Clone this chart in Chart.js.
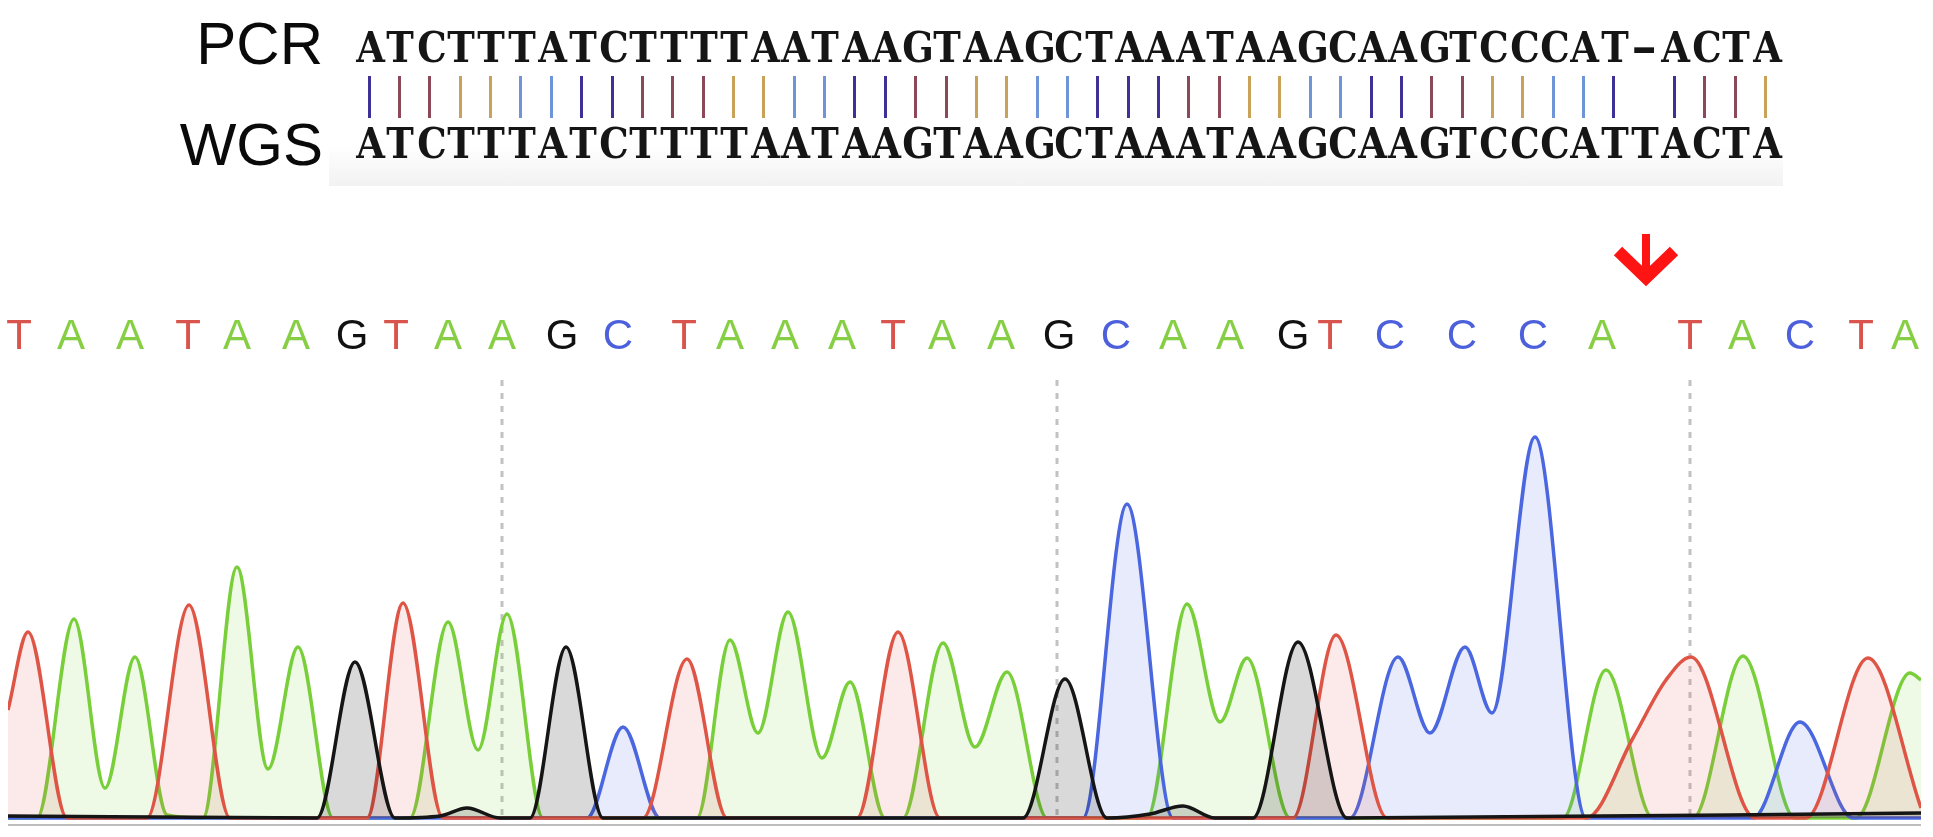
<!DOCTYPE html>
<html>
<head>
<meta charset="utf-8">
<title>PCR vs WGS chromatogram</title>
<script src="https://cdn.jsdelivr.net/npm/chart.js@4.4.0/dist/chart.umd.min.js"></script>
<style>
  html, body { margin: 0; padding: 0; background: #fff; }
  #wrap { position: relative; width: 1933px; height: 837px; overflow: hidden; }
  #trace { position: absolute; left: 0; top: 0; }
  #box { position: absolute; left: 329px; top: 0; width: 1454px; height: 186px;
         background: linear-gradient(to bottom, #fff 0%, #fff 78%, #f2f2f2 100%); }
  .lbl { position: absolute; left: 123px; width: 200px; text-align: right;
         font-family: 'Liberation Sans', Arial, sans-serif; font-size: 60px; line-height: 60px; color: #0a0a0a; }
  .seq { position: absolute; left: 354px; height: 40px; display: flex;
         font-family: 'DejaVu Serif', 'Liberation Serif', serif; font-weight: bold;
         font-size: 43px; line-height: 40px; color: #151515; }
  .seq span { width: 30.36px; text-align: center; display: block; transform: scaleX(0.86); }
  .seq span.gap { transform: scaleX(1.5); }
  #bars { position: absolute; left: 354px; top: 76px; height: 42px; display: flex; }
  #bars span { width: 30.36px; height: 42px; display: flex; justify-content: center; }
  #bars i { width: 3px; height: 100%; display: block; }
</style>
</head>
<body>
<div id="wrap">
  <div id="box"></div>
  <canvas id="trace" width="1933" height="837"></canvas>
  <div class="lbl" style="top:14px">PCR</div>
  <div class="lbl" style="top:115px">WGS</div>
  <div class="seq" id="pcr-seq" style="top:27px"></div>
  <div id="bars"></div>
  <div class="seq" id="wgs-seq" style="top:123px"></div>
</div>
<script>
// alignment
const pcrSeq = 'ATCTTTATCTTTTAATAAGTAAGCTAAATAAGCAAGTCCCAT-ACTA';
const wgsSeq = 'ATCTTTATCTTTTAATAAGTAAGCTAAATAAGCAAGTCCCATTACTA';
const barShade = 'PMMTTBBPPMMMTTBBPPMMTTBBPPPMMTTBBPPMMTTBBP-PMMT';

// base calls over the traces
const baseCalls = 'TAATAAGTAAGCTAAATAAGCAAGTCCCATACTA'.split('');
const callPos = [19, 71, 130, 188, 237, 296, 352, 396, 448, 502, 562, 618, 684, 730, 785, 842,
                 893, 942, 1001, 1059, 1116, 1173, 1230, 1293, 1330, 1390, 1462, 1533, 1602,
                 1690, 1742, 1800, 1861, 1905];
const gridPos = [502, 1057, 1690];
const arrowPos = 1646;

// trace points [scan position, signal]
const traceA = [[8, 0], [37, 0], [74, 199], [105, 30], [135, 161], [167, 3], [203, 0], [237, 251],
                [268, 49], [298, 171], [333, 0], [410, 0], [448, 196], [478, 68], [507, 204], [543, 0],
                [697, 0], [730, 178], [758, 85], [788, 206], [822, 60], [850, 136], [885, 0], [903, 0],
                [943, 175], [975, 71], [1007, 146], [1047, 0], [1147, 0], [1187, 214], [1220, 96],
                [1247, 160], [1290, 0], [1563, 0], [1606, 148], [1653, 0], [1693, 0], [1743, 162],
                [1795, 0], [1856, 0], [1910, 145], [1921, 138]];
const traceT = [[8, 108], [28, 186], [67, 0], [147, 0], [189, 213], [230, 0], [367, 0], [403, 215],
                [443, 0], [643, 0], [687, 159], [727, 0], [857, 0], [898, 186], [940, 0], [1293, 0],
                [1336, 183], [1387, 0], [1586, 0], [1633, 80], [1666, 138], [1691, 161], [1755, 0],
                [1806, 0], [1868, 160], [1921, 10]];
const traceC = [[8, 0], [587, 0], [623, 91], [660, 0], [1083, 0], [1127, 314], [1173, 0], [1350, 0],
                [1398, 161], [1430, 85], [1465, 171], [1492, 105], [1535, 381], [1586, 0], [1753, 0],
                [1800, 96], [1853, 0], [1921, 0]];
const traceG = [[8, 2], [317, 0], [355, 156], [395, 0], [440, 2], [467, 10], [500, 0], [530, 0],
                [566, 171], [603, 0], [1023, 0], [1065, 139], [1107, 0], [1150, 4], [1183, 12],
                [1215, 0], [1253, 0], [1298, 176], [1347, 0], [1921, 5]];

const baseColor = {A: '#86cf45', C: '#4d60dc', G: '#111111', T: '#d9544c'};
const shadeColor = {P: '#3d3096', M: '#8a4858', T: '#c9a259', B: '#7094d8'};

function fillSeq(id, seq) {
    document.getElementById(id).innerHTML = seq.split('').map(c =>
        `<span${c === '-' ? ' class="gap"' : ''}>${c}</span>`).join('');
}
fillSeq('pcr-seq', pcrSeq);
fillSeq('wgs-seq', wgsSeq);
document.getElementById('bars').innerHTML = barShade.split('').map(c =>
    `<span>${c === '-' ? '' : `<i style="background:${shadeColor[c]}"></i>`}</span>`).join('');

function channel(points, color, fill) {
    return {
        data: points.map(p => ({x: p[0], y: p[1]})),
        borderColor: color,
        backgroundColor: fill,
        borderWidth: 3.5,
        fill: 'origin',
        cubicInterpolationMode: 'monotone',
        pointRadius: 0
    };
}

const annotate = {
    id: 'annotate',
    beforeDatasetsDraw(chart) {
        const {ctx, scales: {x, y}} = chart;
        ctx.save();
        ctx.strokeStyle = '#bdbdbd';
        ctx.lineWidth = 2;
        ctx.beginPath();
        ctx.moveTo(x.getPixelForValue(8), y.getPixelForValue(-7));
        ctx.lineTo(x.getPixelForValue(1921), y.getPixelForValue(-7));
        ctx.stroke();
        ctx.strokeStyle = '#c2c2c2';
        ctx.lineWidth = 3;
        ctx.setLineDash([6, 7]);
        gridPos.forEach(p => {
            const px = x.getPixelForValue(p);
            ctx.beginPath();
            ctx.moveTo(px, 380);
            ctx.lineTo(px, y.getPixelForValue(0));
            ctx.stroke();
        });
        ctx.restore();
    },
    afterDraw(chart) {
        const {ctx, scales: {x}} = chart;
        ctx.save();
        ctx.font = '42px "Liberation Sans", Arial, sans-serif';
        ctx.textAlign = 'center';
        ctx.textBaseline = 'alphabetic';
        baseCalls.forEach((b, i) => {
            ctx.fillStyle = baseColor[b];
            ctx.fillText(b, x.getPixelForValue(callPos[i]), 349);
        });
        const ax = x.getPixelForValue(arrowPos);
        ctx.strokeStyle = '#ff1414';
        ctx.lineWidth = 8;
        ctx.beginPath();
        ctx.moveTo(ax, 234);
        ctx.lineTo(ax, 278);
        ctx.stroke();
        ctx.lineWidth = 12;
        ctx.lineJoin = 'miter';
        ctx.beginPath();
        ctx.moveTo(ax - 28, 251);
        ctx.lineTo(ax, 278);
        ctx.lineTo(ax + 28, 251);
        ctx.stroke();
        ctx.restore();
    }
};

new Chart(document.getElementById('trace'), {
    type: 'line',
    data: {
        datasets: [
            channel(traceG, '#151515', 'rgba(0, 0, 0, 0.15)'),
            channel(traceT, '#de5546', 'rgba(222, 85, 70, 0.12)'),
            channel(traceC, '#4a67e0', 'rgba(74, 103, 224, 0.13)'),
            channel(traceA, '#79cf3a', 'rgba(121, 207, 58, 0.13)')
        ]
    },
    options: {
        responsive: false,
        animation: false,
        layout: {padding: {left: 8, right: 12, top: 0, bottom: 0}},
        plugins: {legend: {display: false}, tooltip: {enabled: false}},
        scales: {
            x: {type: 'linear', min: 8, max: 1921, display: false},
            y: {min: -19, max: 818, display: false}
        }
    },
    plugins: [annotate]
});
</script>
</body>
</html>
